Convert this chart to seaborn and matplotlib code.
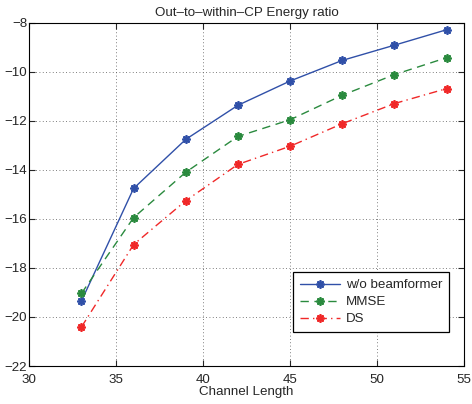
import numpy as np
import pandas as pd
import matplotlib
matplotlib.use("Agg")
import matplotlib.pyplot as plt
import seaborn as sns

channel_length = [33, 36, 39, 42, 45, 48, 51, 54]
wo_beamformer = [-19.35, -14.76, -12.76, -11.37, -10.38, -9.54, -8.92, -8.29]
mmse = [-19.04, -15.95, -14.10, -12.64, -11.96, -10.96, -10.12, -9.43]
ds = [-20.41, -17.05, -15.26, -13.78, -13.04, -12.12, -11.30, -10.69]
series_names = ["w/o beamformer", "MMSE", "DS"]

sns.set_style("ticks")
plt.rcParams['font.family'] = ['Liberation Sans', 'DejaVu Sans']
plt.rcParams['font.size'] = 9.6

df = pd.DataFrame({
    "x": channel_length * 3,
    "y": wo_beamformer + mmse + ds,
    "series": [series_names[0]] * 8 + [series_names[1]] * 8 + [series_names[2]] * 8,
})

fig = plt.figure(figsize=(4.72, 4.04), dpi=100)
ax = fig.add_axes([0.062, 0.094, 0.921, 0.850])

colors = ["#3050a8", "#2a8a3e", "#f02828"]
styles = ["-", (0, (6, 4)), (0, (6, 3, 1, 3))]
for name, c, ls in zip(series_names, colors, styles):
    sub = df[df.series == name]
    sns.lineplot(data=sub, x="x", y="y", ax=ax, color=c, label=name,
                 linewidth=1.0, marker=(8, 2, 0), markersize=6,
                 markeredgewidth=1.3, markeredgecolor=c)
    ax.lines[-1].set_linestyle(ls)

ax.set_xlim(30, 55)
ax.set_ylim(-22, -8)
ax.set_xticks([30, 35, 40, 45, 50, 55])
ax.set_yticks([-22, -20, -18, -16, -14, -12, -10, -8])
ax.set_yticklabels(["\u221222", "\u221220", "\u221218", "\u221216", "\u221214", "\u221212", "\u221210", "\u22128"])
ax.grid(True, linestyle=(0, (1, 3)), color="#555555", linewidth=0.6)
ax.tick_params(direction="in", length=4, width=0.8, labelsize=9.6, top=True, right=True)
ax.tick_params(axis="x", pad=6)
ax.tick_params(axis="y", pad=1.5)
for s in ax.spines.values():
    s.set_linewidth(0.8)
    s.set_color("black")
ax.set_xlabel("Channel Length", fontsize=9.6, labelpad=0)
ax.set_ylabel("")
ax.set_title("Out\u2013to\u2013within\u2013CP Energy ratio", fontsize=9.6, pad=5)

leg = ax.legend(loc="lower right", bbox_to_anchor=(0.982, 0.08), frameon=True, fancybox=False,
                edgecolor="black", fontsize=9.6, handlelength=3.0, borderpad=0.5, labelspacing=0.35,
                handletextpad=0.5)
leg.get_frame().set_linewidth(0.9)
leg.get_frame().set_alpha(1)

fig.savefig("out.png", dpi=100)
